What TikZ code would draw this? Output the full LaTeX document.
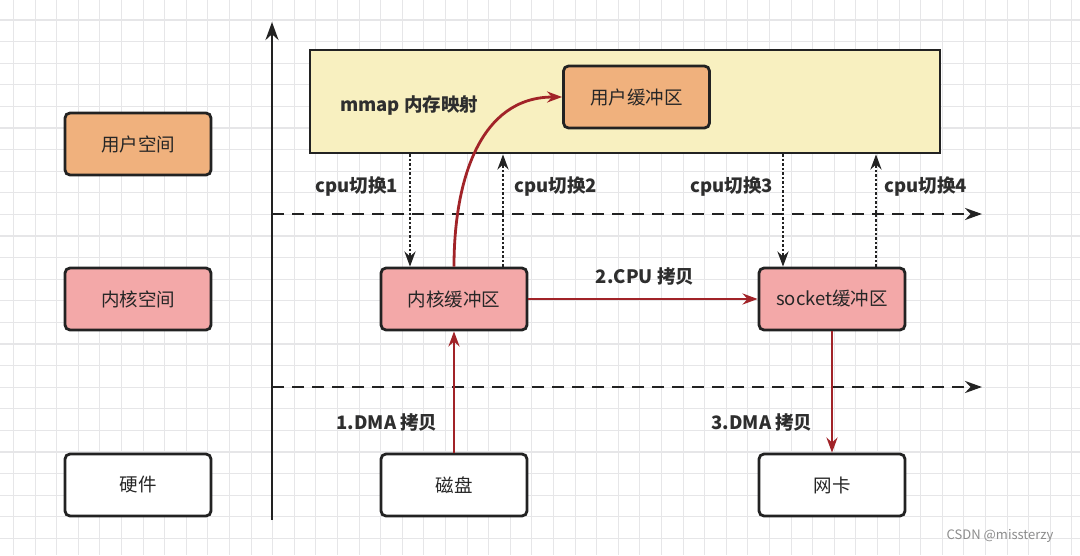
\documentclass[tikz,border=0pt]{standalone}
\usepackage{fontspec}
\setmainfont{Noto Sans CJK SC}
\usetikzlibrary{arrows.meta}
\definecolor{gridc}{HTML}{E6E6E8}
\definecolor{linec}{HTML}{222222}
\definecolor{redc}{HTML}{A12328}
\definecolor{orangec}{HTML}{F0B17D}
\definecolor{pinkc}{HTML}{F3A8A8}
\definecolor{yellowc}{HTML}{F8F0C0}
\tikzset{
  box/.style={draw=linec, line width=2.8pt, rounded corners=5pt, minimum width=146pt, minimum height=62pt, inner sep=0pt, font=\fontsize{18.5}{21}\selectfont, text=black!85},
  ubox/.style={box, fill=orangec},
  kbox/.style={box, fill=pinkc},
  hbox/.style={box, fill=white},
  lbl/.style={font=\fontsize{18.5}{21}\selectfont\bfseries, text=black!82, inner sep=0pt},
  redarrow/.style={draw=redc, line width=2.8pt, -{Stealth[length=15pt,width=11pt]}},
  dotarrow/.style={draw=linec, line width=2.5pt, dotted, -{Stealth[length=15pt,width=11pt]}},
  dashline/.style={draw=linec, line width=2.8pt, dash pattern=on 12pt off 8pt, -{Stealth[length=17pt,width=12pt]}},
}
\begin{document}
\begin{tikzpicture}[x=1pt,y=-1pt]
\useasboundingbox (0,0) rectangle (1080,555);
\fill[white] (0,0) rectangle (1080,555);
% grid
\foreach \i in {0,...,49} {
  \draw[gridc, line width=1.1pt] ({13.5+21.6*\i},0) -- ({13.5+21.6*\i},555);
}
\foreach \j in {0,...,25} {
  \draw[gridc, line width=1.1pt] (0,{20+21.6*\j}) -- (1080,{20+21.6*\j});
}
% axis
\coordinate (axb) at (272,520);
\coordinate (axt) at (272,22);
\draw[draw=linec, line width=2.8pt, -{Stealth[length=18pt,width=13pt]}] (axb) -- (axt);
% dashed separators
\coordinate (d1s) at (272,214);
\coordinate (d1e) at (982,214);
\coordinate (d2s) at (272,387);
\coordinate (d2e) at (982,387);
\draw[dashline] (d1s) -- (d1e);
\draw[dashline] (d2s) -- (d2e);
% mmap region
\node[draw=linec, line width=2.8pt, fill=yellowc, minimum width=630pt, minimum height=103pt, inner sep=0pt] (mmap) at (625,101.5) {};
\node[lbl, anchor=west] (mmaplbl) at (340,105) {mmap 内存映射};
\node[ubox] (ubuf) at (636.5,97) {用户缓冲区};
% left column
\node[ubox] (us) at (138,144) {用户空间};
\node[kbox] (ks) at (138,299) {内核空间};
\node[hbox] (hw) at (138,485) {硬件};
% kernel buffers
\node[kbox] (kbuf) at (454,299) {内核缓冲区};
\node[kbox] (sbuf) at (832,299) {socket缓冲区};
% hardware
\node[hbox] (disk) at (454,485) {磁盘};
\node[hbox] (nic) at (832,485) {网卡};
% dotted cpu switches
\draw[dotarrow] (mmap.south -| 410,0) -- (kbuf.north -| 410,0);
\draw[dotarrow] (kbuf.north -| 503,0) -- (mmap.south -| 503,0);
\draw[dotarrow] (mmap.south -| 783,0) -- (sbuf.north -| 783,0);
\draw[dotarrow] (sbuf.north -| 876,0) -- (mmap.south -| 876,0);
\node[lbl] (c1) at (357,187) {cpu切换1};
\node[lbl] (c2) at (556,187) {cpu切换2};
\node[lbl] (c3) at (732,187) {cpu切换3};
\node[lbl] (c4) at (926,187) {cpu切换4};
% red copies
\draw[redarrow] (kbuf.north) .. controls (454,180) and (480,97) .. (ubuf.west);
\draw[redarrow] (kbuf.east) -- (sbuf.west);
\node[lbl] (cpuc) at (645,276) {2.CPU 拷贝};
\draw[redarrow] (disk.north) -- (kbuf.south);
\node[lbl] (dma1) at (387,422) {1.DMA 拷贝};
\draw[redarrow] (sbuf.south) -- (nic.north);
\node[lbl] (dma3) at (762,422) {3.DMA 拷贝};
% watermark
\node[font=\fontsize{13}{15}\selectfont, text=black!45, inner sep=0pt] (wm) at (1000,536) {CSDN @missterzy};
\end{tikzpicture}
\end{document}
